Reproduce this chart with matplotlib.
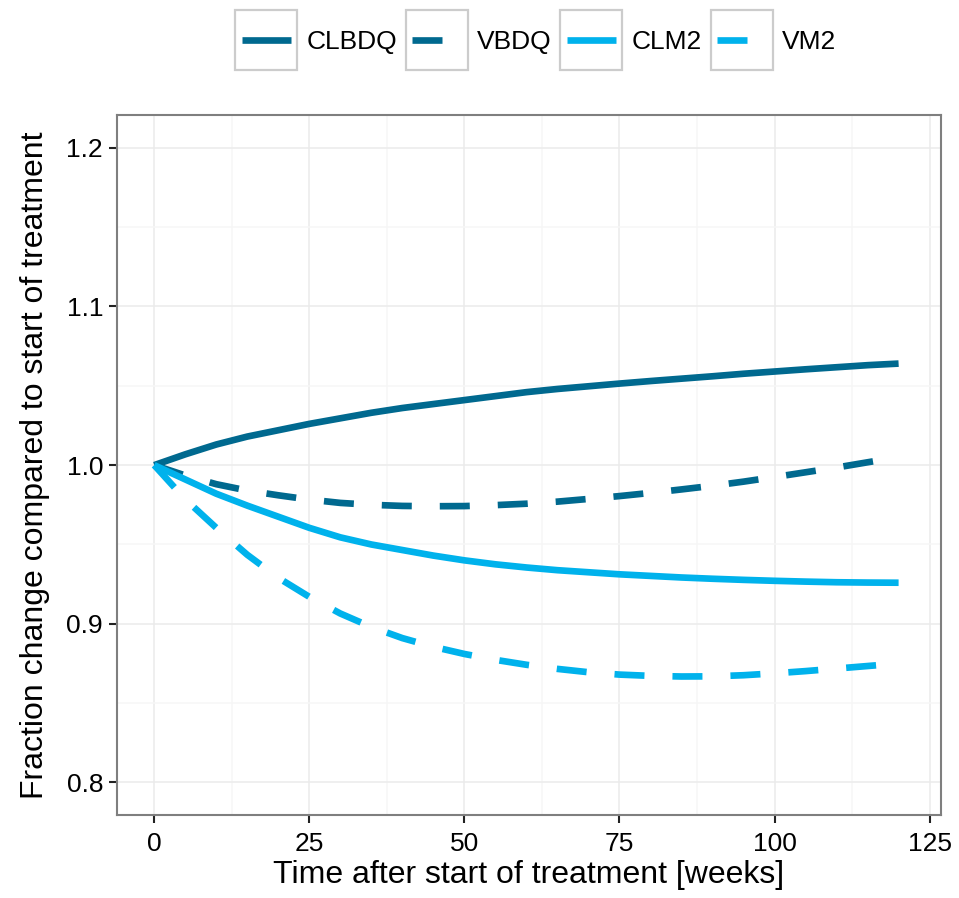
import matplotlib
matplotlib.use("Agg")
import matplotlib.pyplot as plt
from matplotlib.patches import Rectangle

plt.rcParams['font.family'] = ['Liberation Sans', 'DejaVu Sans']

weeks = [0, 5, 10, 15, 20, 25, 30, 35, 40, 45, 50, 55, 60, 65, 70, 75, 80, 85,
         90, 95, 100, 105, 110, 115, 120]
clbdq = [1.0, 1.0068, 1.013, 1.018, 1.022, 1.026, 1.0295, 1.033, 1.036, 1.0385,
         1.041, 1.0435, 1.046, 1.048, 1.0497, 1.0514, 1.053, 1.0545, 1.056,
         1.0576, 1.059, 1.0604, 1.0617, 1.063, 1.064]
vbdq = [1.0, 0.9935, 0.988, 0.984, 0.981, 0.9783, 0.9762, 0.975, 0.9743, 0.9741,
        0.9742, 0.9748, 0.9757, 0.977, 0.9787, 0.9805, 0.9825, 0.9847, 0.987,
        0.9896, 0.9925, 0.9955, 0.9985, 1.0018, 1.005]
clm2 = [1.0, 0.991, 0.982, 0.9745, 0.9675, 0.9605, 0.9545, 0.950, 0.9465, 0.943,
        0.940, 0.9375, 0.9355, 0.9338, 0.9325, 0.9312, 0.9302, 0.9292, 0.9284,
        0.9277, 0.9271, 0.9266, 0.9262, 0.926, 0.9259]
vm2 = [1.0, 0.9785, 0.9605, 0.9435, 0.929, 0.917, 0.9065, 0.898, 0.891, 0.8855,
       0.881, 0.8773, 0.8742, 0.8716, 0.8695, 0.868, 0.8672, 0.8668, 0.8669,
       0.8676, 0.8688, 0.8702, 0.8718, 0.8734, 0.875]

labels = ['CLBDQ', 'VBDQ', 'CLM2', 'VM2']
dark = '#00698f'
light = '#00b2ec'

fig = plt.figure(figsize=(9.59, 8.98), dpi=100)
ax = fig.add_axes([0.122, 0.0924, 0.859, 0.7796])

lw = 4.8
dash = (4.5, 4.2)
h1, = ax.plot(weeks, clbdq, color=dark, lw=lw, solid_capstyle='butt', label=labels[0])
h2, = ax.plot(weeks, vbdq, color=dark, lw=lw, dashes=dash, dash_capstyle='butt', label=labels[1])
h3, = ax.plot(weeks, clm2, color=light, lw=lw, solid_capstyle='butt', label=labels[2])
h4, = ax.plot(weeks, vm2, color=light, lw=lw, dashes=dash, dash_capstyle='butt', label=labels[3])

ax.set_xlim(-6, 126.8)
ax.set_ylim(0.7795, 1.2207)
ax.set_xticks([0, 25, 50, 75, 100, 125])
ax.set_yticks([0.8, 0.9, 1.0, 1.1, 1.2])
ax.set_yticklabels(['0.8', '0.9', '1.0', '1.1', '1.2'])
ax.set_xticks([12.5, 37.5, 62.5, 87.5, 112.5], minor=True)
ax.set_yticks([0.85, 0.95, 1.05, 1.15], minor=True)
ax.grid(which='major', color='#ebebeb', lw=1.1, zorder=0)
ax.grid(which='minor', color='#f6f6f6', lw=1.1, zorder=0)
ax.set_axisbelow(True)
ax.tick_params(which='major', direction='out', length=6, width=1.5, color='#222222',
               labelsize=19, pad=4, labelcolor='black')
ax.tick_params(axis='x', pad=6)
ax.tick_params(which='minor', length=0)
for s in ax.spines.values():
    s.set_color('#7f7f7f')
    s.set_linewidth(1.5)

ax.set_xlabel('Time after start of treatment [weeks]', fontsize=23, labelpad=3)
ax.set_ylabel('Fraction change compared to start of treatment', fontsize=23, labelpad=12)

leg = fig.legend([h1, h2, h3, h4], labels, loc='center', bbox_to_anchor=(0.562, 0.9527),
                 ncol=4, frameon=False, fontsize=19, handlelength=1.85,
                 handletextpad=0.6, columnspacing=0.58)

fig.canvas.draw()
for hl in leg.legend_handles:
    bb = hl.get_window_extent(fig.canvas.get_renderer())
    cx = (bb.x0 + bb.x1) / 2
    cy = (bb.y0 + bb.y1) / 2
    w, h = 62, 60
    fig.patches.append(Rectangle(((cx - w / 2) / fig.bbox.width, (cy - h / 2) / fig.bbox.height),
                                 w / fig.bbox.width, h / fig.bbox.height,
                                 transform=fig.transFigure, fill=False,
                                 edgecolor='#cccccc', lw=1.6, zorder=5))

fig.savefig('out.png', dpi=100)
